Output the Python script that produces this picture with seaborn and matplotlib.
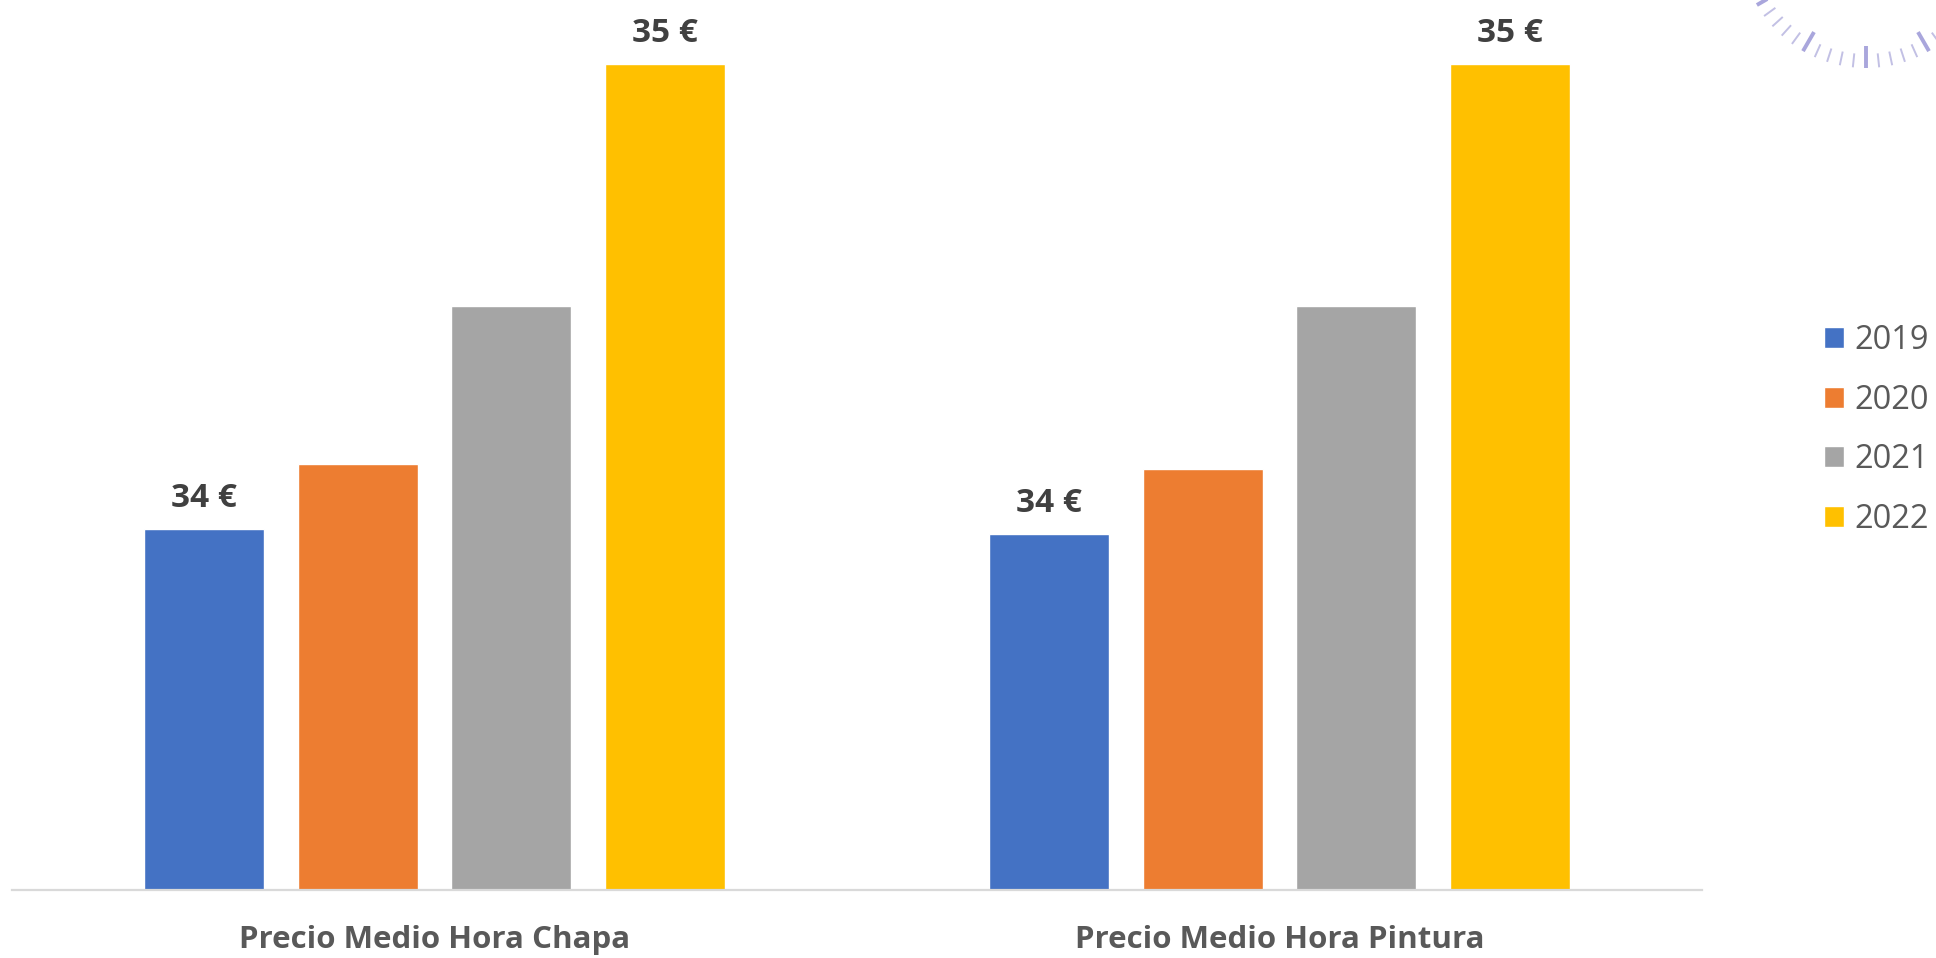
import numpy as np
import pandas as pd
import matplotlib.pyplot as plt
import seaborn as sns
from matplotlib.lines import Line2D

sns.set_theme(style="white")
plt.rcParams['font.family'] = ['Open Sans', 'DejaVu Sans']

# data
categories = ["Precio Medio Hora Chapa", "Precio Medio Hora Pintura"]
years = ["2019", "2020", "2021", "2022"]
chapa = [34.00, 34.14, 34.48, 35.00]
pintura = [33.99, 34.13, 34.48, 35.00]
colors = ["#4472C4", "#ED7D31", "#A5A5A5", "#FFC000"]
labelled_years = ["2019", "2022"]

df = pd.DataFrame({
    "Categoria": np.repeat(categories, len(years)),
    "Año": years * len(categories),
    "Precio": chapa + pintura,
})

W, H = 1936, 958
fig = plt.figure(figsize=(W / 100, H / 100), dpi=100)
ax = fig.add_axes([12 / W, 68 / H, 1690 / W, 890 / H])

sns.barplot(data=df, x="Categoria", y="Precio", hue="Año", palette=colors,
            width=0.727, gap=0.22, saturation=1, ax=ax)

ax.set_ylim(33.224, 33.224 + 890 / 465)
ax.set_xlim(-0.5, 1.5)
ax.set_xlabel("")
ax.set_ylabel("")
ax.set_yticks([])
sns.despine(ax=ax, left=True)
ax.spines["bottom"].set_color("#D9D9D9")
ax.spines["bottom"].set_linewidth(1.6)
ax.tick_params(axis="x", length=0, pad=25, labelsize=22.5, labelcolor="#595959")
for t in ax.get_xticklabels():
    t.set_fontweight("bold")

# value labels only on first and last year
for yr, cont in zip(years, ax.containers):
    if yr in labelled_years:
        ax.bar_label(cont, labels=[f"{v:.0f} €" for v in cont.datavalues],
                     padding=10, fontsize=24, fontweight="bold", color="#404040")

leg = ax.legend(loc="center left", bbox_to_anchor=(1824 / W, 1 - 430 / H),
                bbox_transform=fig.transFigure, frameon=False, title=None,
                fontsize=23.5, handlelength=0.62, handleheight=0.62,
                handletextpad=0.3, labelspacing=0.82, borderpad=0,
                borderaxespad=0)
for t in leg.get_texts():
    t.set_color("#595959")

# partial dial decoration in the top-right corner
cx, cy = 1866, -58
for deg in range(30, 151, 6):
    th = np.deg2rad(deg)
    major = (deg - 90) % 30 == 0
    r0, r1 = (104 if major else 112), 126
    xs = [(cx + r * np.cos(th)) / W for r in (r0, r1)]
    ys = [1 - (cy + r * np.sin(th)) / H for r in (r0, r1)]
    fig.add_artist(Line2D(xs, ys, transform=fig.transFigure,
                          color="#A9A6DC" if major else "#C2C0E4",
                          lw=2.8 if major else 1.4, solid_capstyle="butt"))

fig.savefig("out.png", dpi=100)
